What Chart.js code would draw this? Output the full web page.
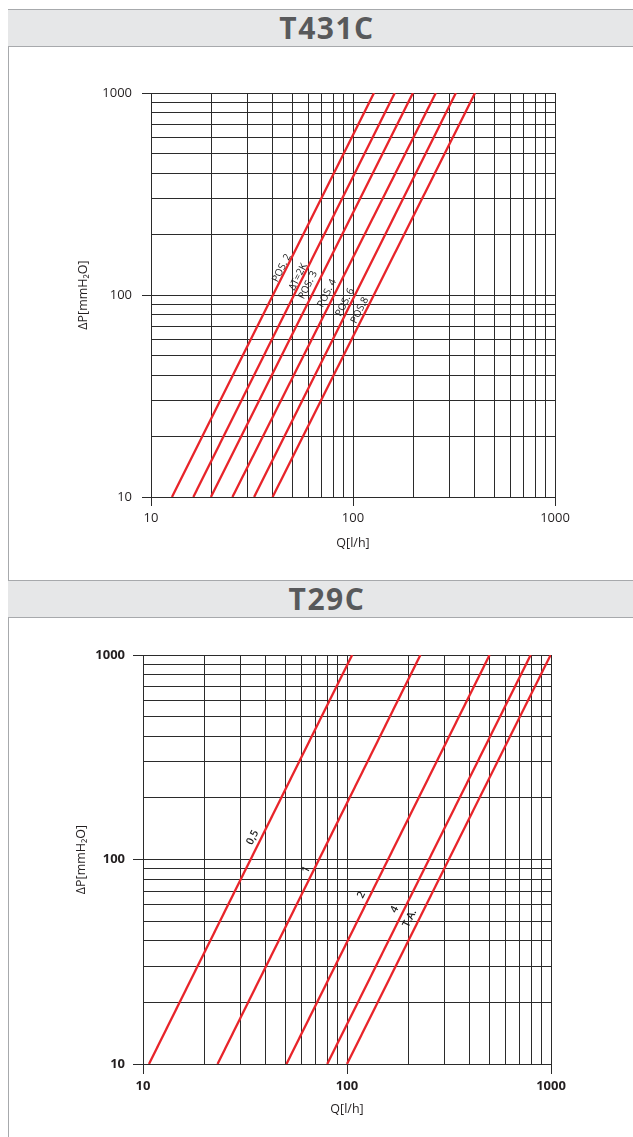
<!DOCTYPE html>
<html>
<head>
<meta charset="utf-8">
<script src="https://cdn.jsdelivr.net/npm/chart.js@4.4.1/dist/chart.umd.min.js"></script>
<style>
  body { margin: 0; width: 633px; height: 1137px; overflow: hidden; background: #fff; position: relative; font-family: "Open Sans", sans-serif; }
  .edge { position: absolute; left: 8px; top: 9px; width: 1px; height: 1128px; background: #a7a9ac; }
  .head { position: absolute; left: 8px; width: 612px; padding-left: 13px; height: 36px; background: #e6e7e8;
          border-top: 1px solid #a7a9ac; border-bottom: 1px solid #a7a9ac; text-align: center;
          font-weight: 700; font-size: 30px; line-height: 36px; color: #58595b; letter-spacing: 1.5px; }
  canvas { position: absolute; left: 0; }
</style>
</head>
<body>
<div class="edge"></div>
<div class="head" style="top:9px">T431C</div>
<div class="head" style="top:580px">T29C</div>
<canvas id="chartT431" style="top:50px;width:633px;height:522px"></canvas>
<canvas id="chartT29" style="top:625px;width:633px;height:512px"></canvas>
<script>
// grille log 10..1000
const gridValues = [10, 20, 30, 40, 50, 60, 70, 80, 90, 100, 200, 300, 400, 500, 600, 700, 800, 900, 1000];
const majorTicks = [10, 100, 1000];

// T431C : débit Q à ΔP=10 et à ΔP=1000
const t431Labels = ['POS. 2', 'ΔT=2K', 'POS. 3', 'POS. 4', 'POS. 6', 'POS.8'];
const t431QLow = [12.7, 16.2, 19.8, 25.3, 32.4, 40];
const t431QHigh = [127, 161, 198, 257, 323, 402];
const t431LabelQ = [44.4, 53.5, 59.9, 74.3, 91.2, 108];
const t431LabelP = [136, 123, 112, 102, 92, 84];

// T29C
const t29Labels = ['0,5', '1', '2', '4', 'T.A.'];
const t29QLow = [10.7, 23.2, 50.5, 80, 100];
const t29QHigh = [106, 229, 500, 795, 996];
const t29LabelQ = [34.5, 63.1, 117.5, 171.4, 203];
const t29LabelP = [128, 89, 67, 57, 51.5];

const RED = '#e8242a';
const GRID = '#2b2b2b';

const curveLabels = {
  id: 'curveLabels',
  afterDatasetsDraw(chart, args, opts) {
    const { ctx, scales: { x, y } } = chart;
    ctx.save();
    ctx.fillStyle = '#1a1a1a';
    ctx.font = opts.font;
    ctx.textAlign = 'center';
    ctx.textBaseline = 'middle';
    opts.texts.forEach((txt, i) => {
      const d = chart.data.datasets[i].data;
      const ang = Math.atan2(y.getPixelForValue(d[1].y) - y.getPixelForValue(d[0].y),
                             x.getPixelForValue(d[1].x) - x.getPixelForValue(d[0].x));
      ctx.save();
      ctx.translate(x.getPixelForValue(opts.q[i]), y.getPixelForValue(opts.p[i]));
      ctx.rotate(ang);
      ctx.fillText(txt, 0, 0);
      ctx.restore();
    });
    ctx.restore();
  }
};

function makeChart(id, qLow, qHigh, texts, lq, lp, cfg) {
  const datasets = qLow.map((q, i) => ({
    data: [{ x: q, y: 10 }, { x: qHigh[i], y: 1000 }],
    borderColor: RED,
    borderWidth: 2.3,
    pointRadius: 0,
    fill: false,
    tension: 0
  }));
  const tickFont = { family: 'Open Sans', size: 13, weight: cfg.tickWeight };
  const gridOpts = {
    color: GRID,
    lineWidth: 1,
    tickLength: cfg.tickLen,
    tickColor: c => (c.tick && majorTicks.includes(c.tick.value)) ? GRID : 'rgba(0,0,0,0)'
  };
  const setTicks = s => { s.ticks = gridValues.map(v => ({ value: v })); };
  const label = v => majorTicks.includes(v) ? String(v) : '';
  return new Chart(document.getElementById(id), {
    type: 'line',
    data: { datasets },
    plugins: [curveLabels],
    options: {
      responsive: false,
      animation: false,
      layout: { padding: cfg.pad },
      plugins: {
        legend: { display: false },
        tooltip: { enabled: false },
        curveLabels: { texts, q: lq, p: lp, font: cfg.labelFont }
      },
      scales: {
        x: {
          type: 'logarithmic', min: 10, max: 1000,
          afterBuildTicks: setTicks,
          afterFit: s => { s.height = cfg.xH; },
          grid: gridOpts,
          border: { color: GRID },
          ticks: { autoSkip: false, maxRotation: 0, padding: cfg.xPad, color: '#231f20', font: tickFont, callback: label },
          title: { display: true, text: 'Q[l/h]', color: '#231f20', padding: 0, font: { family: 'Open Sans', size: 12.5 } }
        },
        y: {
          type: 'logarithmic', min: 10, max: 1000,
          afterBuildTicks: setTicks,
          afterFit: s => { s.width = cfg.yW; },
          grid: gridOpts,
          border: { color: GRID },
          ticks: { autoSkip: false, padding: cfg.yPad, color: '#231f20', font: tickFont, callback: label },
          title: { display: true, text: 'ΔP[mmH₂O]', color: '#231f20', padding: 0, font: { family: 'Open Sans', size: 12.5 } }
        }
      }
    }
  });
}

function sizeCanvas(id) {
  const c = document.getElementById(id);
  c.width = parseInt(c.style.width);
  c.height = parseInt(c.style.height);
}
sizeCanvas('chartT431');
sizeCanvas('chartT29');

window.chartT431 = makeChart('chartT431', t431QLow, t431QHigh, t431Labels, t431LabelQ, t431LabelP, {
  pad: { left: 76, right: 78, top: 43, bottom: 21 },
  yW: 75, xH: 54, tickLen: 9, xPad: 4, yPad: 10, tickWeight: 'normal',
  labelFont: '10px "Open Sans"'
});

window.chartT29 = makeChart('chartT29', t29QLow, t29QHigh, t29Labels, t29LabelQ, t29LabelP, {
  pad: { left: 74, right: 82, top: 30, bottom: 20 },
  yW: 69, xH: 53, tickLen: 10, xPad: 4, yPad: 8, tickWeight: 'bold',
  labelFont: '600 10.5px "Open Sans"'
});
</script>
</body>
</html>
